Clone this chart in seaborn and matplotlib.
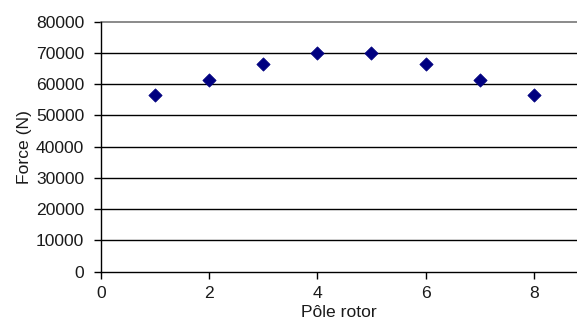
import matplotlib
matplotlib.use("Agg")
import matplotlib.pyplot as plt
import seaborn as sns
import pandas as pd

poles = [1, 2, 3, 4, 5, 6, 7, 8]
force = [56400, 61200, 66500, 70000, 70000, 66500, 61200, 56400]
x_ticks = [0, 2, 4, 6, 8]
y_ticks = [0, 10000, 20000, 30000, 40000, 50000, 60000, 70000, 80000]

sns.set_style("white")
plt.rcParams['font.family'] = ['Liberation Sans', 'DejaVu Sans']

df = pd.DataFrame({"pole": poles, "force": force})

fig = plt.figure(figsize=(5.77, 3.27), dpi=100)
ax = fig.add_axes([0.175, 0.169, 0.825, 0.765])

sns.scatterplot(data=df, x="pole", y="force", marker="D", s=46,
                color="#000080", edgecolor="#000080", linewidth=0.5, ax=ax, zorder=3)

ax.set_xlim(0, 8.8)
ax.set_ylim(0, 80000)
ax.set_xticks(x_ticks)
ax.set_yticks(y_ticks)
ax.set_xticklabels([str(v) for v in x_ticks])
ax.set_yticklabels([str(v) for v in y_ticks])

for v in y_ticks[1:-1]:
    ax.axhline(v, color="black", lw=1.0, zorder=1)
ax.axhline(80000, color="#777777", lw=1.2, zorder=1, clip_on=False)

for s in ["top", "right"]:
    ax.spines[s].set_visible(False)
for s in ["left", "bottom"]:
    ax.spines[s].set_color("black")
    ax.spines[s].set_linewidth(1.0)

ax.tick_params(axis="y", which="major", direction="out", length=5, width=1,
               color="black", labelsize=12.6, labelcolor="#1a1a1a", pad=7,
               left=True)
ax.tick_params(axis="x", which="major", direction="out", length=5, width=1,
               color="black", labelsize=12.6, labelcolor="#1a1a1a", pad=5,
               bottom=True)

ax.set_xlabel("Pôle rotor", fontsize=12.6, color="#1a1a1a", labelpad=3)
ax.set_ylabel("Force (N)", fontsize=12.6, color="#1a1a1a", labelpad=3)

fig.savefig("out.png", dpi=100)
